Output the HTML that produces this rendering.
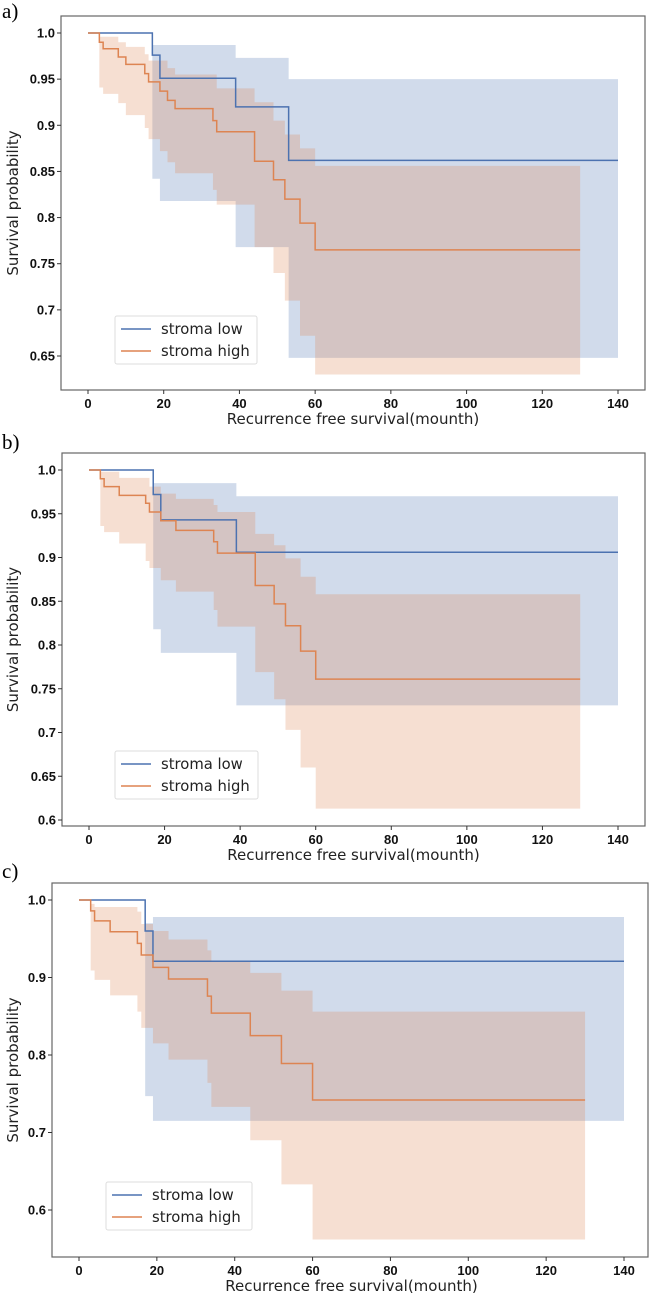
<!DOCTYPE html>
<html><head><meta charset="utf-8">
<style>
html,body{margin:0;padding:0;background:#fff;}
svg{display:block;}
.tick{font-family:"Liberation Sans",sans-serif;font-weight:bold;font-size:13px;fill:#111;}
.axl{font-family:"DejaVu Sans",sans-serif;font-size:15px;fill:#222;}
.leg{font-family:"DejaVu Sans",sans-serif;font-size:14.8px;fill:#222;}
.pl{font-family:"Liberation Serif",serif;font-size:21px;fill:#000;}
</style></head>
<body>
<svg id="fig" width="649" height="1295" viewBox="0 0 649 1295" xmlns="http://www.w3.org/2000/svg"></svg>
<script>
// ---- Panel a data ----
const aLowT = [17, 19, 39, 53];
const aLowS = [0.976, 0.951, 0.92, 0.862];
const aLowU = [0.987, 0.987, 0.973, 0.95];
const aLowL = [0.842, 0.818, 0.768, 0.648];
const aHighT = [3, 4, 8, 10, 15, 16, 19, 21, 23, 33, 34, 44, 49, 52, 56, 60];
const aHighS = [0.99, 0.983, 0.974, 0.966, 0.956, 0.947, 0.937, 0.927, 0.918, 0.905, 0.893, 0.861, 0.841, 0.82, 0.794, 0.765];
const aHighU = [0.996, 0.996, 0.99, 0.985, 0.977, 0.97, 0.97, 0.962, 0.955, 0.955, 0.94, 0.925, 0.905, 0.89, 0.875, 0.856];
const aHighL = [0.941, 0.934, 0.924, 0.911, 0.897, 0.885, 0.872, 0.86, 0.848, 0.83, 0.814, 0.768, 0.74, 0.71, 0.672, 0.63];
const aYTicks = [1.0, 0.95, 0.9, 0.85, 0.8, 0.75, 0.7, 0.65];
const aYLabels = ["1.0", "0.95", "0.9", "0.85", "0.8", "0.75", "0.7", "0.65"];
// ---- Panel b data ----
const bLowT = [17, 19, 39];
const bLowS = [0.972, 0.943, 0.906];
const bLowU = [0.985, 0.985, 0.97];
const bLowL = [0.818, 0.791, 0.731];
const bHighT = [3, 4, 8, 15, 16, 19, 23, 33, 34, 44, 49, 52, 56, 60];
const bHighS = [0.99, 0.981, 0.971, 0.962, 0.952, 0.942, 0.931, 0.918, 0.905, 0.868, 0.847, 0.822, 0.793, 0.761];
const bHighU = [0.998, 0.998, 0.991, 0.991, 0.981, 0.973, 0.967, 0.96, 0.952, 0.927, 0.914, 0.899, 0.878, 0.858];
const bHighL = [0.936, 0.929, 0.916, 0.896, 0.888, 0.874, 0.861, 0.84, 0.821, 0.769, 0.738, 0.703, 0.66, 0.613];
const bYTicks = [1.0, 0.95, 0.9, 0.85, 0.8, 0.75, 0.7, 0.65, 0.6];
const bYLabels = ["1.0", "0.95", "0.9", "0.85", "0.8", "0.75", "0.7", "0.65", "0.6"];
// ---- Panel c data ----
const cLowT = [17, 19];
const cLowS = [0.96, 0.921];
const cLowU = [0.97, 0.978];
const cLowL = [0.747, 0.715];
const cHighT = [3, 4, 8, 15, 16, 19, 23, 33, 34, 44, 52, 60];
const cHighS = [0.986, 0.973, 0.959, 0.944, 0.929, 0.913, 0.898, 0.876, 0.854, 0.825, 0.789, 0.742];
const cHighU = [0.995, 0.991, 0.991, 0.985, 0.969, 0.96, 0.949, 0.935, 0.921, 0.906, 0.883, 0.856];
const cHighL = [0.909, 0.897, 0.877, 0.856, 0.835, 0.815, 0.794, 0.764, 0.733, 0.69, 0.633, 0.562];
const cYTicks = [1.0, 0.9, 0.8, 0.7, 0.6];
const cYLabels = ["1.0", "0.9", "0.8", "0.7", "0.6"];
const xTicks = [0, 20, 40, 60, 80, 100, 120, 140];
const xLabels = ["0", "20", "40", "60", "80", "100", "120", "140"];
const lowEnd = 140, highEnd = 130;

const NS = "http://www.w3.org/2000/svg";
const svg = document.getElementById("fig");
function mk(tag, attrs, parent, text) {
  const e = document.createElementNS(NS, tag);
  for (const k in attrs) e.setAttribute(k, attrs[k]);
  if (text !== undefined) e.textContent = text;
  (parent || svg).appendChild(e);
  return e;
}
const BLUE = "#4c72b0", ORANGE = "#dd8452";

function panel(cfg) {
  const g = mk("g", {});
  
  
  const X = v => cfg.x0 + (v / 140) * (cfg.x140 - cfg.x0);
  const Y = v => cfg.y1 + (1 - v) / (1 - cfg.yRef) * (cfg.yRefPx - cfg.y1);

  function band(T, U, L, end, color, nm) {
    let d = "M" + X(T[0]) + "," + Y(1);
    for (let i = 0; i < T.length; i++) {
      const nx = i + 1 < T.length ? T[i + 1] : end;
      d += " L" + X(T[i]) + "," + Y(U[i]) + " L" + X(nx) + "," + Y(U[i]);
    }
    for (let i = T.length - 1; i >= 0; i--) {
      const nx = i + 1 < T.length ? T[i + 1] : end;
      d += " L" + X(nx) + "," + Y(L[i]) + " L" + X(T[i]) + "," + Y(L[i]);
    }
    d += " L" + X(T[0]) + "," + Y(1) + "Z";
    const p = mk("path", {d: d, fill: color, "fill-opacity": 0.26, stroke: "none"}, g);
    
    
  }
  function line(T, S, end, color, nm) {
    let d = "M" + X(0) + "," + Y(1);
    let prev = 1;
    for (let i = 0; i < T.length; i++) {
      d += " L" + X(T[i]) + "," + Y(prev) + " L" + X(T[i]) + "," + Y(S[i]);
      prev = S[i];
    }
    d += " L" + X(end) + "," + Y(prev);
    const p = mk("path", {d: d, fill: "none", stroke: color, "stroke-width": 1.5}, g);
    
    
  }
  band(cfg.lowT, cfg.lowU, cfg.lowL, lowEnd, BLUE, "stroma-low-ci");
  band(cfg.highT, cfg.highU, cfg.highL, highEnd, ORANGE, "stroma-high-ci");
  line(cfg.lowT, cfg.lowS, lowEnd, BLUE, "stroma-low-line");
  line(cfg.highT, cfg.highS, highEnd, ORANGE, "stroma-high-line");

  const fr = mk("rect", {x: cfg.fl, y: cfg.ft, width: cfg.fr - cfg.fl, height: cfg.fb - cfg.ft, fill: "none", stroke: "#666", "stroke-width": 1.2}, g);
  
  

  for (let i = 0; i < cfg.yTicks.length; i++) {
    const y = Y(cfg.yTicks[i]);
    mk("line", {x1: cfg.fl - 4, x2: cfg.fl, y1: y, y2: y, stroke: "#333", "stroke-width": 1}, g);
    const t = mk("text", {x: cfg.fl - 6, y: y + 4.5, "text-anchor": "end", class: "tick"}, g, cfg.yLabels[i]);
    
    
  }
  for (let i = 0; i < xTicks.length; i++) {
    const x = X(xTicks[i]);
    mk("line", {x1: x, x2: x, y1: cfg.fb, y2: cfg.fb + 4, stroke: "#333", "stroke-width": 1}, g);
    const t = mk("text", {x: x, y: cfg.fb + 18, "text-anchor": "middle", class: "tick"}, g, xLabels[i]);
    
    
  }
  const xl = mk("text", {x: (cfg.x0 + cfg.x140) / 2, y: cfg.fb + 34, "text-anchor": "middle", class: "axl"}, g, "Recurrence free survival(mounth)");
  
  
  const ycx = 18, ycy = (cfg.ft + cfg.fb) / 2;
  const yl = mk("text", {x: ycx, y: ycy, "text-anchor": "middle", class: "axl", transform: "rotate(-90 " + ycx + " " + ycy + ")"}, g, "Survival probability");
  
  

  const lg = mk("g", {}, g);
  
  
  const L = cfg.leg;
  mk("rect", {x: L[0], y: L[1], width: L[2], height: L[3], fill: "#fff", "fill-opacity": 0.8, stroke: "#ddd", rx: 2}, lg);
  const rows = [["stroma low", BLUE], ["stroma high", ORANGE]];
  for (let i = 0; i < 2; i++) {
    const yy = L[1] + 13 + i * 22;
    mk("line", {x1: L[0] + 6, x2: L[0] + 36, y1: yy, y2: yy, stroke: rows[i][1], "stroke-width": 1.5}, lg);
    const t = mk("text", {x: L[0] + 46, y: yy + 5, class: "leg"}, lg, rows[i][0]);
    
    
  }
  const pl = mk("text", {x: 2, y: cfg.labY, class: "pl"}, g, cfg.label);
  
  
}

panel({name: "panel-a", label: "a)", labY: 18, fl: 61, fr: 645, ft: 16, fb: 390, x0: 88, x140: 618, y1: 33, yRef: 0.65, yRefPx: 356,
  lowT: aLowT, lowS: aLowS, lowU: aLowU, lowL: aLowL, highT: aHighT, highS: aHighS, highU: aHighU, highL: aHighL,
  yTicks: aYTicks, yLabels: aYLabels, leg: [115, 316, 142, 48]});
panel({name: "panel-b", label: "b)", labY: 449, fl: 62, fr: 645, ft: 453, fb: 826, x0: 89, x140: 618, y1: 470, yRef: 0.6, yRefPx: 820,
  lowT: bLowT, lowS: bLowS, lowU: bLowU, lowL: bLowL, highT: bHighT, highS: bHighS, highU: bHighU, highL: bHighL,
  yTicks: bYTicks, yLabels: bYLabels, leg: [115, 751, 143, 48]});
panel({name: "panel-c", label: "c)", labY: 878, fl: 52, fr: 648, ft: 883, fb: 1257, x0: 79, x140: 624, y1: 900, yRef: 0.6, yRefPx: 1210,
  lowT: cLowT, lowS: cLowS, lowU: cLowU, lowL: cLowL, highT: cHighT, highS: cHighS, highU: cHighU, highL: cHighL,
  yTicks: cYTicks, yLabels: cYLabels, leg: [106, 1182, 146, 48]});
</script>
</body></html>
